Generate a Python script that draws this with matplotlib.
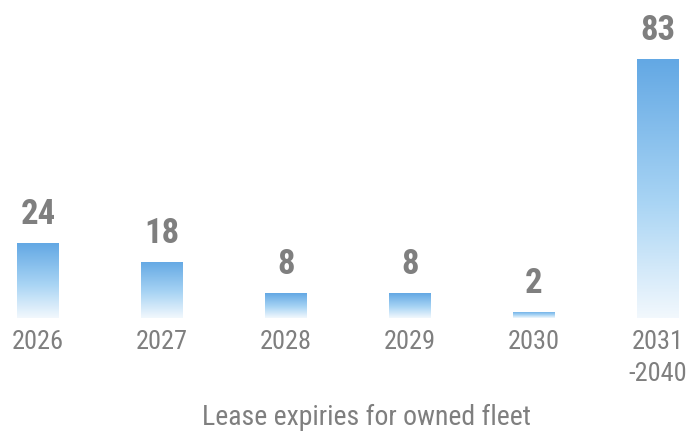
import numpy as np
import matplotlib.pyplot as plt
from matplotlib.colors import LinearSegmentedColormap

categories = ["2026", "2027", "2028", "2029", "2030", "2031\n-2040"]
expiries = [24, 18, 8, 8, 2, 83]
title = "Lease expiries for owned fleet"

narrow = ["Roboto Condensed", "DejaVu Sans"]
grey = "#7f7f7f"

fig = plt.figure(figsize=(6.87, 4.33), dpi=100)
ax = fig.add_axes([0, 0.2656, 1, 0.7206])

x = np.arange(len(categories))
bar_w = 42 / 124
bars = ax.bar(x, expiries, width=bar_w, color="none", edgecolor="none")

# vertical fade: pale at the base, blue at the top
cmap = LinearSegmentedColormap.from_list(
    "fade", [(0, "#f2f8fd"), (0.45, "#a8d4f4"), (1, "#63a8e4")])
grad = np.linspace(0, 1, 256).reshape(-1, 1)
for bar, xi, v in zip(bars, x, expiries):
    im = ax.imshow(grad, cmap=cmap, origin="lower", aspect="auto",
                   extent=[xi - bar_w / 2, xi + bar_w / 2, 0, v], zorder=2)
    im.set_clip_path(bar)
    ax.text(xi, v + 6, str(v), ha="center", va="baseline", fontsize=25,
            fontweight="bold", color=grey, family=narrow)

ax.set_xlim(-38 / 124, (687 - 38) / 124)
ax.set_ylim(0, 100)
ax.set_xticks(x)
ax.set_xticklabels(categories, fontsize=19, color=grey, family=narrow,
                   linespacing=1.4, va="top")
ax.tick_params(axis="x", length=0, pad=9)
ax.set_yticks([])
for s in ax.spines.values():
    s.set_visible(False)

fig.text(0.533, 0.018, title, ha="center", va="baseline", fontsize=20,
         color=grey, family=narrow)

fig.savefig("out.png", dpi=100)
